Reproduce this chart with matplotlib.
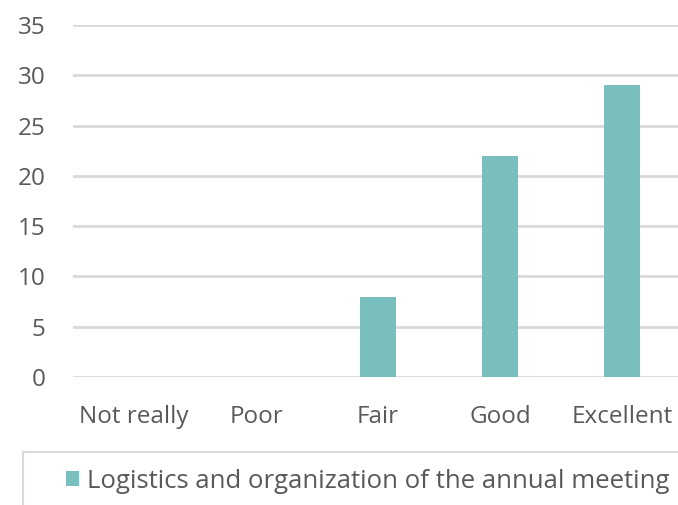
import matplotlib.pyplot as plt
from matplotlib.patches import Rectangle
import numpy as np

plt.rcParams['font.family'] = ['Open Sans', 'DejaVu Sans']

categories = ['Not really', 'Poor', 'Fair', 'Good', 'Excellent']
values = [0, 0, 8, 22, 29]
series_name = 'Logistics and organization of the annual meeting'
yticks = [0, 5, 10, 15, 20, 25, 30, 35]

bar_color = '#79bfbe'
grid_color = '#d9d9d9'
text_color = '#595959'

W, H = 678, 505
fig = plt.figure(figsize=(W / 100, H / 100), dpi=100)
ax = fig.add_axes([73 / W, 1 - 377 / H, 610 / W, 352 / H])

x = np.arange(len(categories))
bars = ax.bar(x, values, width=0.3, color=bar_color, label=series_name, zorder=3)

ax.set_xlim(-0.5, len(categories) - 0.5)
ax.set_ylim(0, 35)
ax.set_yticks(yticks)
ax.set_xticks(x)
ax.set_xticklabels(categories)
ax.yaxis.grid(True, color=grid_color, linewidth=2, zorder=0)
ax.set_axisbelow(True)
for s in ax.spines.values():
    s.set_visible(False)
ax.tick_params(axis='both', length=0, labelsize=17.5, labelcolor=text_color)
ax.tick_params(axis='x', pad=20)
ax.tick_params(axis='y', pad=20)

# legend frame runs off the right/bottom edge
fig.patches.append(Rectangle((23 / W, -0.05), 1.0, 0.05 + (1 - 452 / H),
                             transform=fig.transFigure, facecolor='none',
                             edgecolor=grid_color, linewidth=1.5))

leg = fig.legend(handles=[bars], labels=[series_name],
                 loc='center left', bbox_to_anchor=(66 / W, 1 - 481 / H),
                 fontsize=18.5, frameon=False,
                 handlelength=0.5, handleheight=0.5,
                 handletextpad=0.3, borderpad=0, borderaxespad=0)
for t in leg.get_texts():
    t.set_color(text_color)

fig.savefig('out.png', dpi=100)
